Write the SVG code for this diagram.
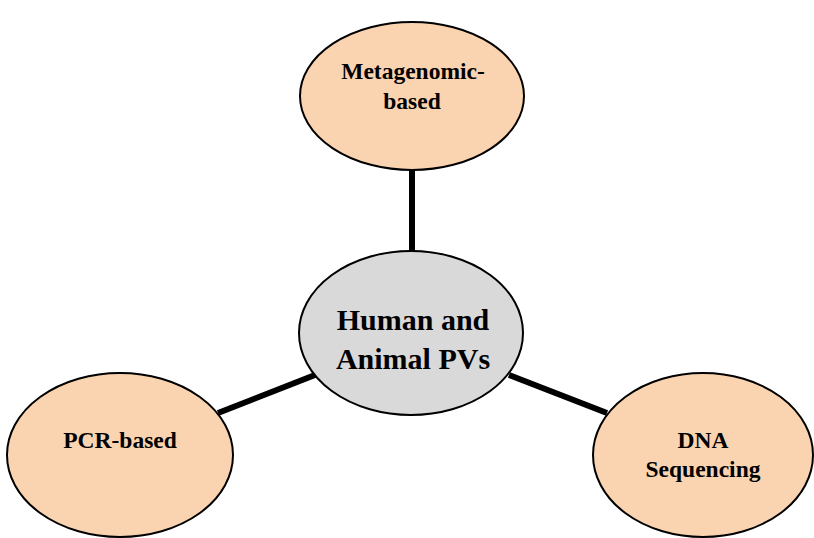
<svg xmlns="http://www.w3.org/2000/svg" width="814" height="538" viewBox="0 0 814 538">
<style>
.leaf{fill:#fad4b1;stroke:#000;stroke-width:2}
.hub{fill:#d9d9d9;stroke:#000;stroke-width:2}
.t{font-family:"Liberation Serif","Times New Roman",serif;font-weight:bold;fill:#000;text-anchor:middle}
.s{font-size:23.5px}
.b{font-size:30px}
.c{stroke:#000;stroke-width:6;fill:none}
</style>
<rect width="814" height="538" fill="#fff"/>
<g id="connectors">
<line class="c" x1="412" y1="169" x2="412" y2="252"/>
<line class="c" x1="218" y1="413" x2="315" y2="375"/>
<line class="c" x1="509" y1="375" x2="607" y2="413"/>
</g>
<g id="metagenomic">
<ellipse class="leaf" cx="412" cy="96" rx="112" ry="74"/>
<text class="t s" x="413" y="79">Metagenomic-</text>
<text class="t s" x="412" y="109">based</text>
</g>
<g id="hub">
<ellipse class="hub" cx="411" cy="333" rx="112" ry="82"/>
<text class="t b" x="413" y="330">Human and</text>
<text class="t b" x="413" y="369">Animal PVs</text>
</g>
<g id="pcr">
<ellipse class="leaf" cx="120" cy="455" rx="113" ry="82"/>
<text class="t s" x="120" y="448">PCR-based</text>
</g>
<g id="dna">
<ellipse class="leaf" cx="703" cy="455" rx="110" ry="82"/>
<text class="t s" x="703" y="448">DNA</text>
<text class="t s" x="703" y="477">Sequencing</text>
</g>
</svg>
